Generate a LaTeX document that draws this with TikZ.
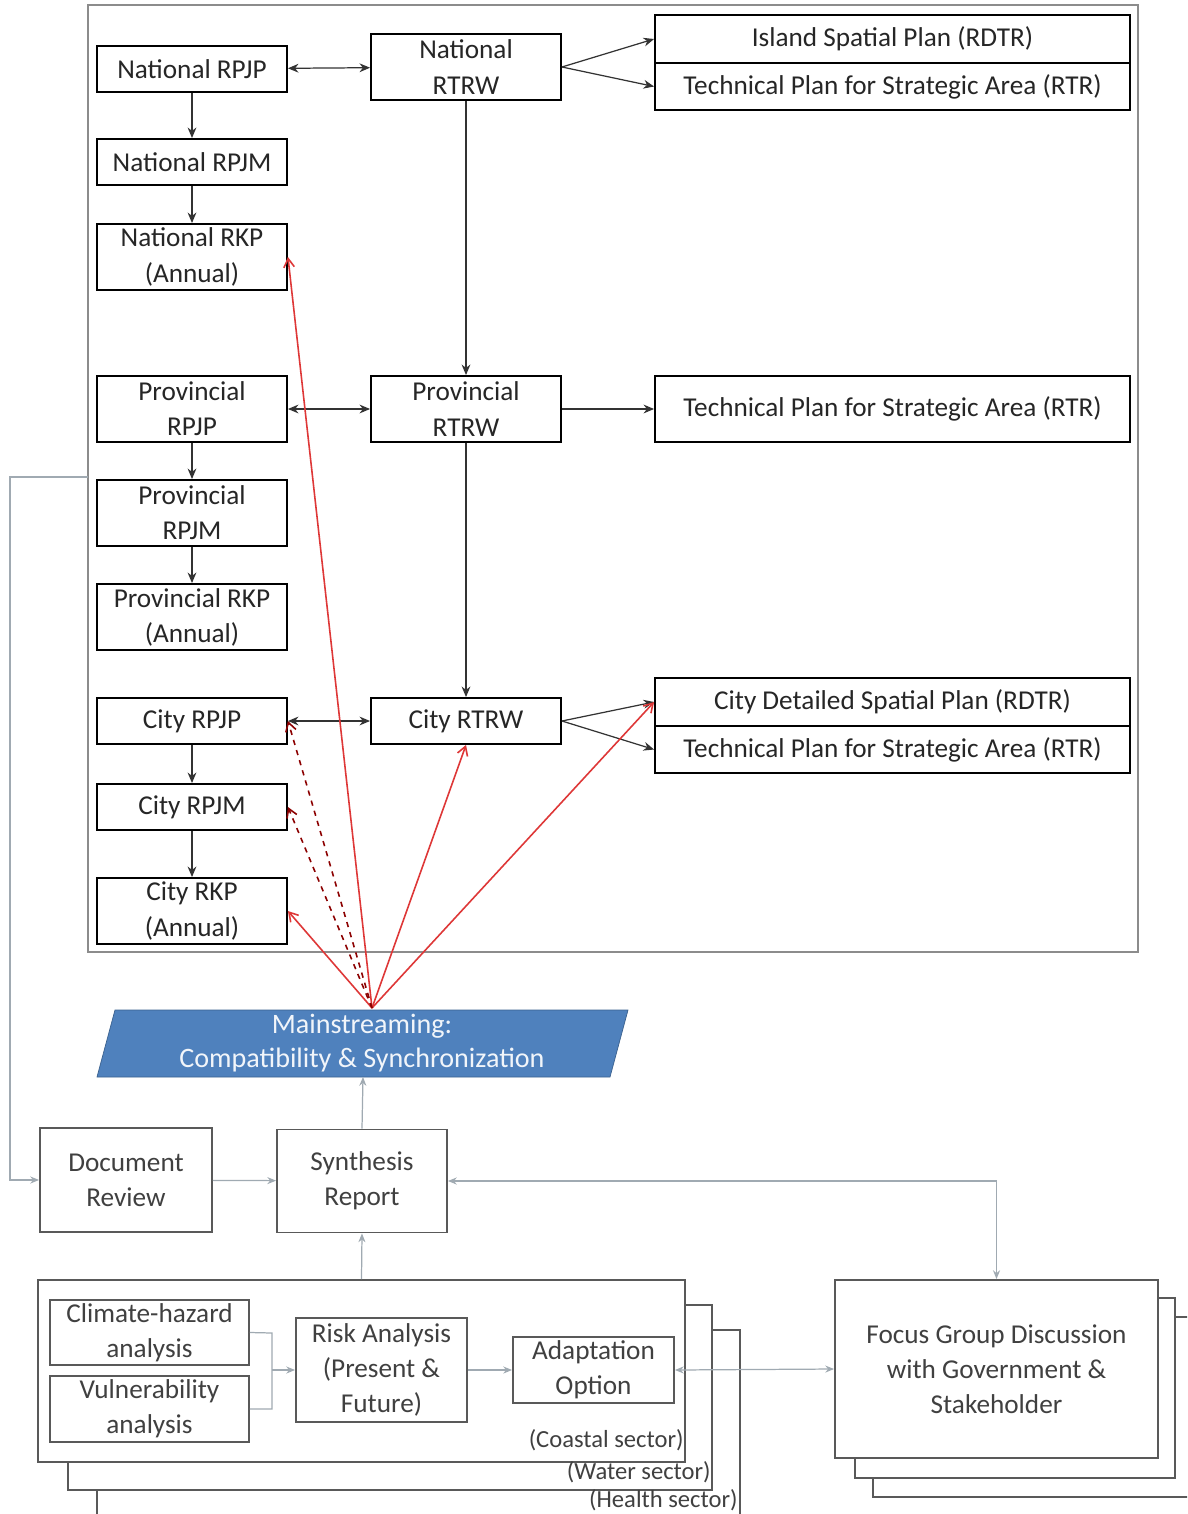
\documentclass[tikz,border=0pt]{standalone}
\usepackage{fontspec}
\setmainfont{Carlito}
\usetikzlibrary{arrows.meta}
\definecolor{mainblue}{RGB}{79,129,189}
\definecolor{framegrey}{RGB}{140,140,140}
\definecolor{linkgrey}{RGB}{160,170,178}
\definecolor{syncred}{RGB}{222,55,55}
\newcommand{\planfont}{\fontsize{15.5}{20}\selectfont}
\newcommand{\sectorfont}{\fontsize{14}{16}\selectfont}

\begin{document}
\begin{tikzpicture}[x=0.02cm,y=-0.02cm,
    plan/.style={draw, line width=1.1pt, minimum width=3.8cm, inner sep=1pt, align=center, font=\planfont, text=black!85},
    flat/.style={minimum height=0.92cm},
    tall/.style={minimum height=1.32cm},
    techplan/.style={plan, minimum width=9.5cm, minimum height=0.95cm},
    flow/.style={-{Stealth[length=6pt,width=5pt]}, line width=0.7pt, black!80},
    twoway/.style={{Stealth[length=6pt,width=5pt]}-{Stealth[length=6pt,width=5pt]}, line width=0.7pt, black!80},
    sync/.style={-{Straight Barb[length=5pt,width=6pt]}, line width=0.9pt, syncred},
    stepbox/.style={draw=black!65, line width=1.1pt, fill=white, align=center, font=\planfont, text=black!75, inner sep=1pt},
    soft/.style={-{Stealth[length=5pt,width=4pt]}, line width=0.7pt, linkgrey}]

    \clip (0,0) rectangle (1187,1514);
    \fill[white] (0,0) rectangle (1187,1514);

    \draw[framegrey, line width=1.2pt] (88,5) rectangle (1138,952);
    \coordinate (frameW) at (88,477);

    \node[plan, flat] (natRPJP) at (192,69) {National RPJP};
    \node[plan, tall] (natRTRW) at (466,67) {National\\RTRW};
    \node[techplan] (natRDTR) at (892.5,39) {Island Spatial Plan (RDTR)};
    \node[techplan] (natRTR) at (892.5,86.5) {Technical Plan for Strategic Area (RTR)};
    \node[plan, flat] (natRPJM) at (192,162) {National RPJM};
    \node[plan, tall] (natRKP) at (192,257) {National RKP\\(Annual)};

    \node[plan, tall] (provRPJP) at (192,409) {Provincial\\RPJP};
    \node[plan, tall] (provRTRW) at (466,409) {Provincial\\RTRW};
    \node[techplan, tall] (provRTR) at (892.5,409) {Technical Plan for Strategic Area (RTR)};
    \node[plan, tall] (provRPJM) at (192,513) {Provincial\\RPJM};
    \node[plan, tall] (provRKP) at (192,617) {Provincial RKP\\(Annual)};

    \node[plan, flat] (cityRPJP) at (192,721) {City RPJP};
    \node[plan, flat] (cityRTRW) at (466,721) {City RTRW};
    \node[techplan] (cityRDTR) at (892.5,702) {City Detailed Spatial Plan (RDTR)};
    \node[techplan] (cityRTR) at (892.5,749.5) {Technical Plan for Strategic Area (RTR)};
    \node[plan, flat] (cityRPJM) at (192,807) {City RPJM};
    \node[plan, tall] (cityRKP) at (192,911) {City RKP\\(Annual)};

    \draw[twoway] (natRPJP) -- (natRTRW);
    \draw[flow] (natRTRW.east) -- (natRDTR.west);
    \draw[flow] (natRTRW.east) -- (natRTR.west);
    \draw[flow] (natRPJP) -- (natRPJM);
    \draw[flow] (natRPJM) -- (natRKP);
    \draw[flow] (natRTRW) -- (provRTRW);

    \draw[twoway] (provRPJP) -- (provRTRW);
    \draw[flow] (provRTRW) -- (provRTR);
    \draw[flow] (provRPJP) -- (provRPJM);
    \draw[flow] (provRPJM) -- (provRKP);
    \draw[flow] (provRTRW) -- (cityRTRW);

    \draw[twoway] (cityRPJP) -- (cityRTRW);
    \draw[flow] (cityRTRW.east) -- (cityRDTR.west);
    \draw[flow] (cityRTRW.east) -- (cityRTR.west);
    \draw[flow] (cityRPJP) -- (cityRPJM);
    \draw[flow] (cityRPJM) -- (cityRKP);

    % mainstreaming block
    \fill[mainblue, draw=mainblue!75!black] (115,1010) -- (628,1010) -- (610,1077) -- (97,1077) -- cycle;
    \node[font=\fontsize{16}{19.3}\selectfont, text=white!92!mainblue, align=center] (mainstr) at (362,1043)
        {Mainstreaming:\\Compatibility \& Synchronization};
    \coordinate (hub) at (372,1008);
    \coordinate (mainS) at (363,1077);

    \draw[sync] (hub) -- (natRKP.east);
    \draw[sync] (hub) -- (cityRKP.east);
    \draw[sync] (hub) -- (cityRTRW.south);
    \draw[sync] (hub) -- (cityRDTR.west);
    \draw[sync, red!55!black, dashed] (hub) -- (cityRPJP.east);
    \draw[sync, red!55!black, dashed] (hub) -- (cityRPJM.east);

    % review and synthesis
    \node[stepbox, minimum width=3.44cm, minimum height=2.08cm] (docRev) at (126,1180) {Document\\Review};
    \node[stepbox, minimum width=3.4cm, minimum height=2.06cm] (synth) at (362,1181) {Synthesis\\Report};

    % sector stack
    \node[stepbox, minimum width=12.86cm, minimum height=4.2cm] (health) at (418.5,1435) {};
    \node[stepbox, minimum width=12.88cm, minimum height=3.7cm] (water) at (390,1397.5) {};
    \node[stepbox, minimum width=12.94cm, minimum height=3.64cm] (coastal) at (361.5,1371) {};
    \node[font=\sectorfont, text=black!75, anchor=east, inner sep=0pt] (coastalLbl) at (684,1440) {(Coastal sector)};
    \node[font=\sectorfont, text=black!75, anchor=east, inner sep=0pt] (waterLbl) at (711,1472) {(Water sector)};
    \node[font=\sectorfont, text=black!75, anchor=east, inner sep=0pt] (healthLbl) at (738,1500) {(Health sector)};

    \node[stepbox, minimum width=3.98cm, minimum height=1.3cm] (hazard) at (149.5,1332.5) {Climate-hazard\\analysis};
    \node[stepbox, minimum width=3.98cm, minimum height=1.32cm] (vuln) at (149.5,1409) {Vulnerability\\analysis};
    \node[stepbox, minimum width=3.42cm, minimum height=2.08cm] (risk) at (381.5,1370) {Risk Analysis\\(Present \&\\Future)};
    \node[stepbox, minimum width=3.22cm, minimum height=1.32cm] (adapt) at (593.5,1370) {Adaptation\\Option};

    % focus group stack
    \node[stepbox, minimum width=6.44cm, minimum height=3.6cm] (fgd3) at (1034,1407) {};
    \node[stepbox, minimum width=6.4cm, minimum height=3.6cm] (fgd2) at (1015,1388) {};
    \node[stepbox, minimum width=6.46cm, minimum height=3.56cm] (fgd) at (996.5,1369)
        {Focus Group Discussion\\with Government \&\\Stakeholder};

    \draw[linkgrey, line width=0.7pt] (hazard.east) -- (272,1333) |- (vuln.east);
    \draw[soft] (272,1370) -- (risk.west);
    \draw[soft] (risk) -- (adapt);
    \draw[soft, {Stealth[length=5pt,width=4pt]}-{Stealth[length=5pt,width=4pt]}] (adapt.east) -- (fgd.west);
    \draw[soft] (coastal.north) -- (synth.south);
    \draw[soft] (synth.north) -- (mainS);
    \draw[soft] (docRev) -- (synth);
    \draw[soft] (frameW) -- (10,477) |- (docRev.west);
    \draw[soft, {Stealth[length=5pt,width=4pt]}-{Stealth[length=5pt,width=4pt]}] (synth.east) -| (fgd.north);
\end{tikzpicture}
\end{document}
